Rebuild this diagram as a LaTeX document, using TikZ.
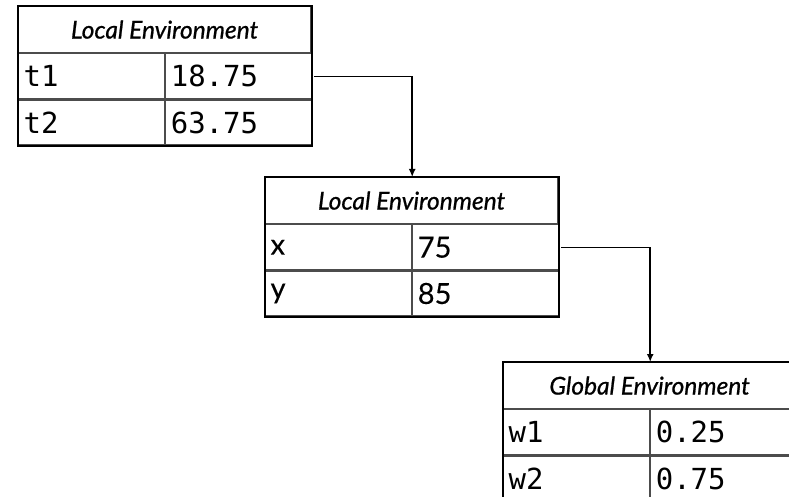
\documentclass[tikz,border=0pt]{standalone}
\usepackage{fontspec}
\newfontfamily\headfont{Lato}[FakeBold=0.8]
\newfontfamily\monofont{DejaVu Sans Mono}
\newfontfamily\plainfont{Lato}[FakeBold=0.3]
\usetikzlibrary{arrows.meta, positioning}

\begin{document}
\begin{tikzpicture}[
    x=1pt, y=-1pt,
    headcell/.style={rectangle, draw=black!70, line width=1.2pt, minimum width=292pt, minimum height=46pt, inner sep=0pt, anchor=north west, font=\headfont\itshape\fontsize{24.5}{24.5}\selectfont},
    cell/.style={rectangle, draw=black!70, line width=1.2pt, minimum height=45pt, text width=136pt, inner sep=5pt, align=left, anchor=north west},
    monocell/.style={cell, font=\monofont\fontsize{29}{29}\selectfont},
    sanscell/.style={cell, font=\plainfont\fontsize{29}{29}\selectfont},
    tableframe/.style={draw=black, line width=2pt},
    arrow/.style={-{Latex[length=8pt, width=7pt]}, line width=1.5pt, shorten <=2pt}
]
\useasboundingbox (0,0) rectangle (789,497);
\clip (0,0) rectangle (789,497);

% first local environment
\node[headcell] (head1) at (18,6) {Local Environment};
\node[monocell] (key11) at (head1.south west) {t1};
\node[monocell] (val11) at (key11.north east) {18.75};
\node[monocell] (key12) at (key11.south west) {t2};
\node[monocell] (val12) at (key12.north east) {63.75};
\draw[tableframe] (head1.north west) rectangle (val12.south east);

% second local environment
\node[headcell] (head2) at (265,177) {Local Environment};
\node[sanscell] (key21) at (head2.south west) {x};
\node[sanscell] (val21) at (key21.north east) {75};
\node[sanscell] (key22) at (key21.south west) {y};
\node[sanscell] (val22) at (key22.north east) {85};
\draw[tableframe] (head2.north west) rectangle (val22.south east);

% global environment
\node[headcell] (head3) at (503,362) {Global Environment};
\node[monocell] (key31) at (head3.south west) {w1};
\node[monocell] (val31) at (key31.north east) {0.25};
\node[monocell] (key32) at (key31.south west) {w2};
\node[monocell] (val32) at (key32.north east) {0.75};
\draw[tableframe] (head3.north west) rectangle (val32.south east);

\draw[arrow] (val11.east) -| (head2.north -| key21.east);
\draw[arrow] (val21.east) -| (head3.north -| key31.east);

\end{tikzpicture}
\end{document}
